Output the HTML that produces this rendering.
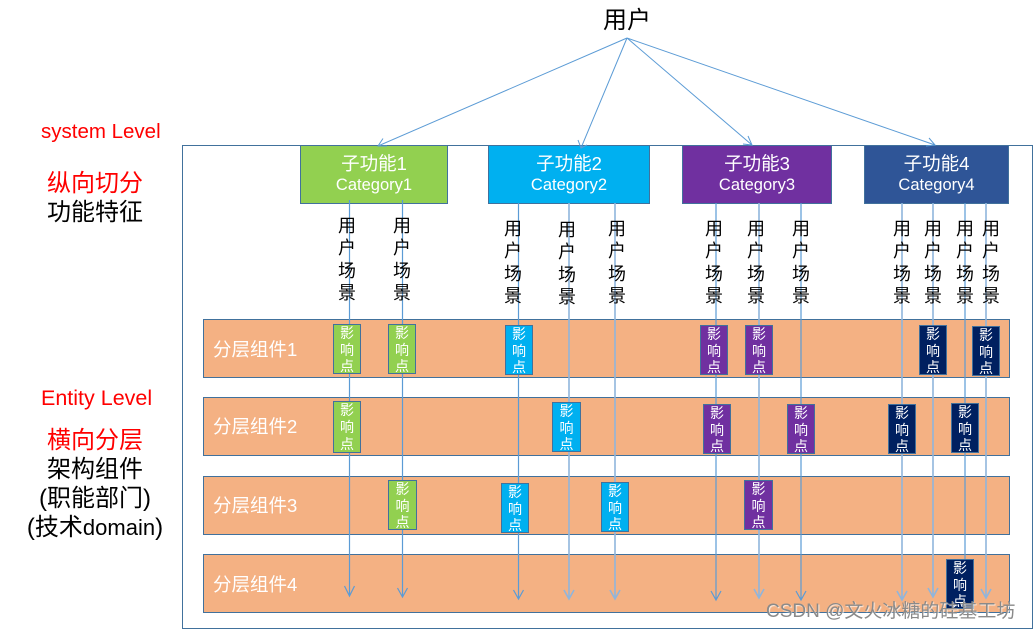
<!DOCTYPE html>
<html><head><meta charset="utf-8"><style>
html,body{margin:0;padding:0;background:#fff}
#p{position:relative;width:1033px;height:630px;overflow:hidden;background:#fff;font-family:"Liberation Sans","Noto Sans CJK SC",sans-serif}
#p div{position:absolute;box-sizing:border-box;white-space:nowrap}
svg{position:absolute;left:0;top:0}
.r{left:203px;width:807px;height:59px;background:#f4b183;border:1px solid #41719c}
.rl{left:213px;color:#fff;font-size:18.500px;line-height:24px}
.f{height:59px;border:1px solid #41719c;color:#fff;text-align:center;font-size:18.500px;line-height:23px;padding-top:6px}
.f span{font-size:16.500px;line-height:21px;display:block}
.s{font-size:18px;line-height:22.300px;width:20px;text-align:center;color:#000;top:215px;white-space:normal!important}
.i{border:1px solid #41719c;width:28px;height:50px;color:#fff;font-size:14px;line-height:16.500px;text-align:center;padding-top:0}
.g{background:#92d050}.b{background:#00b0f0}.v{background:#7030a0}.n{background:#002060}
.t{text-align:center;font-size:24px;line-height:29px}
.red{color:#f00}
</style></head><body><div id="p">
<div style="left:182px;top:145px;width:851px;height:484px;border:1px solid #41719c"></div>
<div class="r" style="top:319px"></div>
<div class="r" style="top:397px"></div>
<div class="r" style="top:476px"></div>
<div class="r" style="top:554px"></div>
<div class="rl" style="top:338px">分层组件1</div>
<div class="rl" style="top:415px">分层组件2</div>
<div class="rl" style="top:494px">分层组件3</div>
<div class="rl" style="top:573px">分层组件4</div>
<div class="f" style="left:300px;top:145px;width:148px;background:#92d050">子功能1<span>Category1</span></div>
<div class="f" style="left:488px;top:145px;width:162px;background:#00b0f0">子功能2<span>Category2</span></div>
<div class="f" style="left:682px;top:145px;width:150px;background:#7030a0">子功能3<span>Category3</span></div>
<div class="f" style="left:864px;top:145px;width:145px;background:#2f5597">子功能4<span>Category4</span></div>
<svg width="1033" height="630" fill="none" stroke="#5b9bd5" stroke-width="1">
<path d="M627 38L378 146M383 138.500L378 146L387 146M627 38L581 148M578 140L581 148L587 145M627 38L752 145M743 144L752 145L748 136M627 38L935 145M926 146L935 145L929 138"/>
<g stroke-width="1.200">
<path d="M349.500 200V596M344.500 586L349.500 596L354.500 586"/>
<path d="M402.500 200V597M397.500 588L402.500 597L407.500 588"/>
<path d="M518.500 203V599M513.500 590L518.500 599L523.500 590"/>
<path d="M569 203V599M564 590L569 599L574 590" stroke="#8fb5dc" stroke-width="1.600"/>
<path d="M615 203V599M610 590L615 599L620 590" stroke="#8fb5dc" stroke-width="1.600"/>
<path d="M716 203V600M711 591L716 600L721 591"/>
<path d="M759 203V598M754 589L759 598L764 589" stroke="#8fb5dc" stroke-width="1.600"/>
<path d="M801 203V600M796 591L801 600L806 591"/>
<path d="M902 203V600M897 591L902 600L907 591" stroke="#8fb5dc" stroke-width="1.600"/>
<path d="M933 203V597M928 588L933 597L938 588" stroke="#8fb5dc" stroke-width="1.600"/>
<path d="M965 203V590"/>
<path d="M986 203V598M981 589L986 598L991 589" stroke="#8fb5dc" stroke-width="1.600"/>
</g>
</svg>
<div class="s" style="left:337px">用<br>户<br>场<br>景</div>
<div class="s" style="left:392px">用<br>户<br>场<br>景</div>
<div class="s" style="left:503px;top:218px">用<br>户<br>场<br>景</div>
<div class="s" style="left:557px;top:219px">用<br>户<br>场<br>景</div>
<div class="s" style="left:607px;top:218px">用<br>户<br>场<br>景</div>
<div class="s" style="left:704px;top:218px">用<br>户<br>场<br>景</div>
<div class="s" style="left:746px;top:218px">用<br>户<br>场<br>景</div>
<div class="s" style="left:791px;top:218px">用<br>户<br>场<br>景</div>
<div class="s" style="left:892px;top:218px">用<br>户<br>场<br>景</div>
<div class="s" style="left:923px;top:218px">用<br>户<br>场<br>景</div>
<div class="s" style="left:955px;top:218px">用<br>户<br>场<br>景</div>
<div class="s" style="left:981px;top:218px">用<br>户<br>场<br>景</div>
<div class="i g" style="left:333px;top:324px">影<br>响<br>点</div>
<div class="i g" style="left:388px;top:324px">影<br>响<br>点</div>
<div class="i b" style="left:505px;top:325px">影<br>响<br>点</div>
<div class="i v" style="left:700px;top:325px">影<br>响<br>点</div>
<div class="i v" style="left:745px;top:325px">影<br>响<br>点</div>
<div class="i n" style="left:919px;top:325px">影<br>响<br>点</div>
<div class="i n" style="left:972px;top:326px">影<br>响<br>点</div>
<div class="i g" style="left:333px;top:401px;height:52px;line-height:17px">影<br>响<br>点</div>
<div class="i b" style="left:552px;top:402px;width:29px">影<br>响<br>点</div>
<div class="i v" style="left:703px;top:404px">影<br>响<br>点</div>
<div class="i v" style="left:787px;top:404px">影<br>响<br>点</div>
<div class="i n" style="left:888px;top:404px">影<br>响<br>点</div>
<div class="i n" style="left:951px;top:403px">影<br>响<br>点</div>
<div class="i g" style="left:388px;top:480px;width:29px">影<br>响<br>点</div>
<div class="i b" style="left:501px;top:483px">影<br>响<br>点</div>
<div class="i b" style="left:601px;top:482px">影<br>响<br>点</div>
<div class="i v" style="left:744px;top:480px;width:29px">影<br>响<br>点</div>
<div class="i n" style="left:946px;top:559px">影<br>响<br>点</div>
<div class="t" style="left:603px;top:6px;width:48px">用户</div>
<div class="red" style="left:41px;top:120px;font-size:20.500px;line-height:24px">system Level</div>
<div class="t red" style="left:47px;top:169px;width:96px">纵向切分</div>
<div class="t" style="left:47px;top:198px;width:96px">功能特征</div>
<div class="red" style="left:41px;top:386px;font-size:21.500px;line-height:24px">Entity Level</div>
<div class="t red" style="left:47px;top:426px;width:96px">横向分层</div>
<div class="t" style="left:47px;top:455px;width:96px">架构组件</div>
<div class="t" style="left:24px;top:484px;width:142px">(职能部门)</div>
<div class="t" style="left:14px;top:513px;width:162px">(技术<span style="font-size:22px">domain</span>)</div>
<div style="left:766px;top:601px;font-size:19px;line-height:22px;color:#8a8a8a;text-shadow:1px 1px 1px rgba(255,255,255,.8)">CSDN @文火冰糖的硅基工坊</div>
</div></body></html>
